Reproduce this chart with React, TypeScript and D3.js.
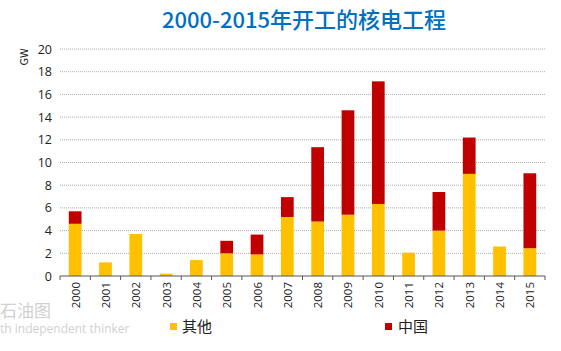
import React from 'react';
import * as d3 from 'd3';

const years = ['2000','2001','2002','2003','2004','2005','2006','2007','2008','2009','2010','2011','2012','2013','2014','2015'];
const other = [4.6, 1.2, 3.7, 0.2, 1.4, 2.0, 1.9, 5.2, 4.8, 5.4, 6.35, 2.05, 4.0, 9.0, 2.6, 2.45];
const china = [1.1, 0, 0, 0, 0, 1.1, 1.75, 1.75, 6.55, 9.2, 10.8, 0, 3.4, 3.2, 0, 6.6];
const yTicks = [0, 2, 4, 6, 8, 10, 12, 14, 16, 18, 20];

const W = 561, H = 351;
const left = 60, right = 545, top = 49, bottom = 276;
const font = '"Noto Sans CJK SC", "Noto Sans", sans-serif';

export default function App() {
  const x = d3.scaleBand().domain(years).range([left, right]).paddingInner(0.58).paddingOuter(0.29);
  const y = d3.scaleLinear().domain([0, 20]).range([bottom, top]);
  const bw = x.bandwidth();
  const step = x.step();

  return (
    <svg width={W} height={H} style={{ position: 'absolute', left: 0, top: 0, background: '#fff' }}>
      <text x={304} y={28} textAnchor="middle" fontFamily={font} fontSize={22} fontWeight={500} fill="#0070C0">
        2000-2015年开工的核电工程
      </text>
      <text transform={`translate(28,57) rotate(-90)`} textAnchor="middle" fontFamily={font} fontSize={11} fill="#222">GW</text>
      {yTicks.map(t => (
        <g key={t}>
          {t > 0 && <line x1={left} x2={right} y1={y(t)} y2={y(t)} stroke="#aaa" strokeWidth={1} strokeDasharray="1,1" />}
          <text x={52} y={y(t) + 4.5} textAnchor="end" fontFamily="Open Sans, sans-serif" fontSize={12.5} fill="#222">{t}</text>
        </g>
      ))}
      {years.map((yr, i) => {
        const bx = x(yr)!;
        return (
          <g key={yr}>
            <rect x={bx} width={bw} y={y(other[i])} height={y(0) - y(other[i])} fill="#FFC000" />
            {china[i] > 0 && (
              <rect x={bx} width={bw} y={y(other[i] + china[i])} height={y(other[i]) - y(other[i] + china[i])} fill="#C00000" />
            )}
            <text transform={`translate(${bx + bw / 2 + 4.5},${bottom + 6}) rotate(-90)`} textAnchor="end" fontFamily="Open Sans, sans-serif" fontSize={11.5} fill="#222">{yr}</text>
          </g>
        );
      })}
      <line x1={left} x2={right} y1={bottom} y2={bottom} stroke="#555" strokeWidth={1} />
      {d3.range(years.length + 1).map(k => (
        <line key={k} x1={left + k * step} x2={left + k * step} y1={bottom} y2={bottom + 4} stroke="#555" strokeWidth={1} />
      ))}
      <text x={0} y={317} fontFamily={font} fontSize={17} fill="#d0d0d0">石油图</text>
      <text x={0} y={333} fontFamily="Open Sans, sans-serif" fontSize={12} fill="#d0d0d0">th independent thinker</text>
      <rect x={170} y={323} width={7} height={7} fill="#FFC000" />
      <text x={182} y={332} fontFamily={font} fontSize={15} fill="#222">其他</text>
      <rect x={385} y={323} width={7} height={7} fill="#C00000" />
      <text x={398} y={332} fontFamily={font} fontSize={15} fill="#222">中国</text>
    </svg>
  );
}
